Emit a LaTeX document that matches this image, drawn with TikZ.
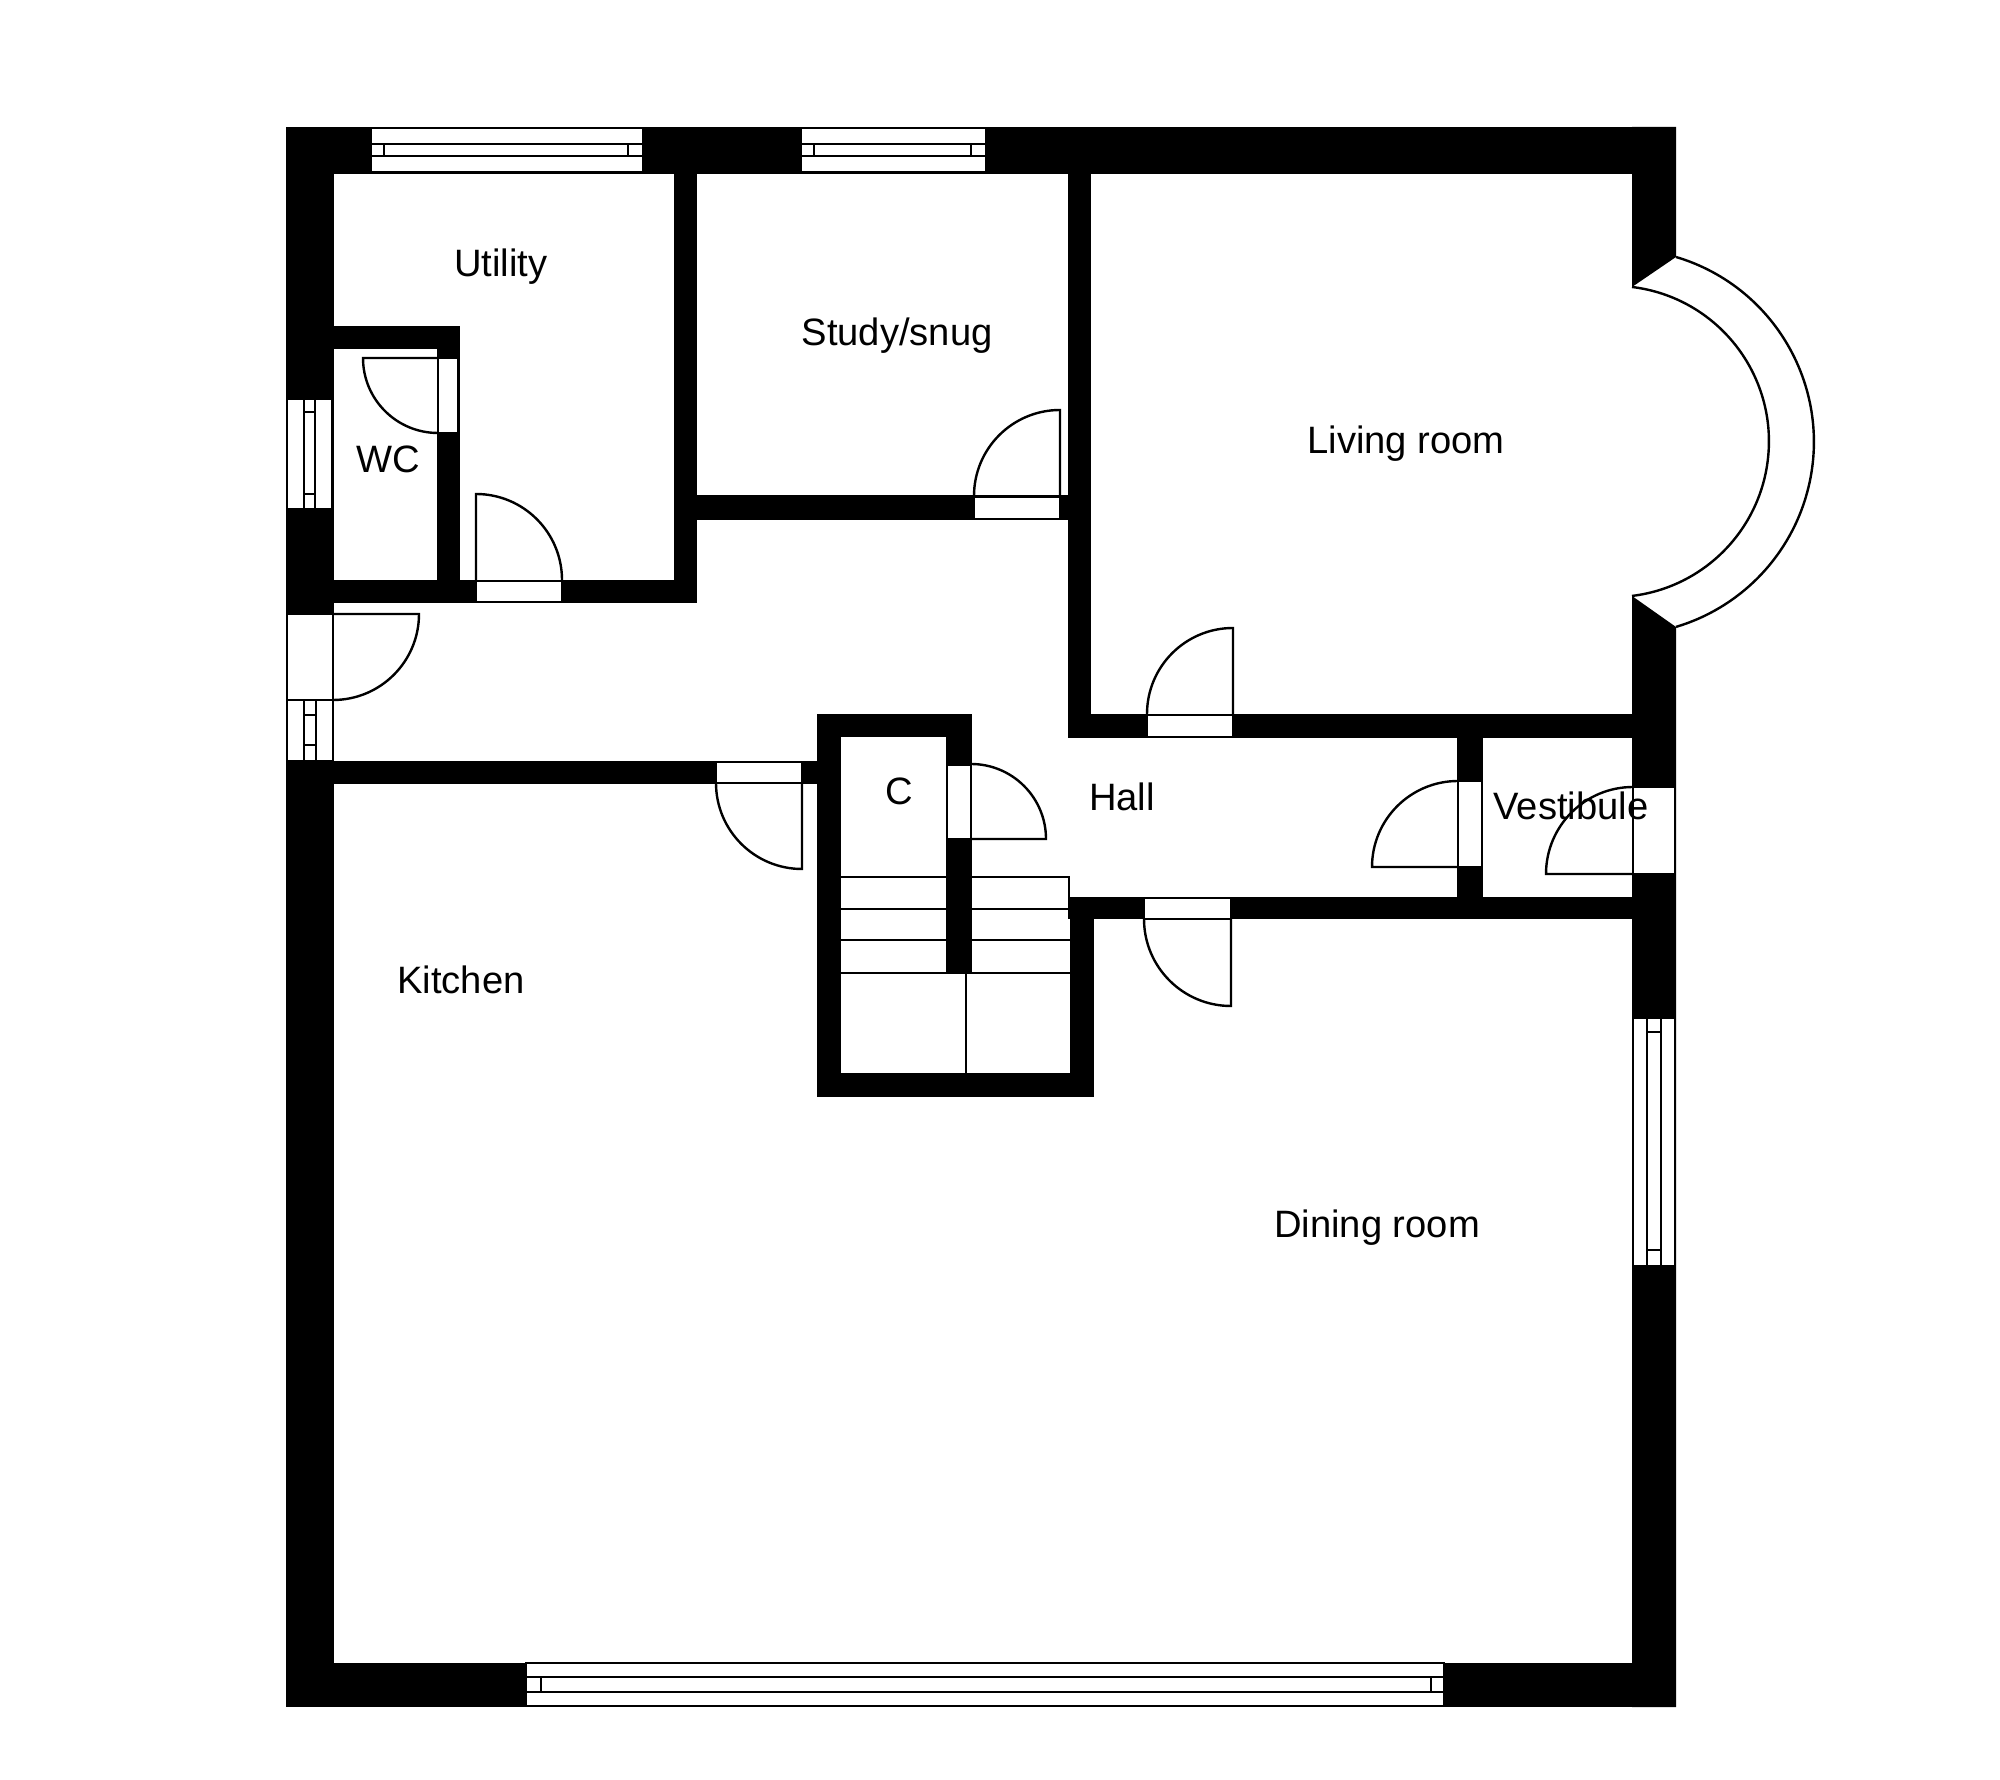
\documentclass[tikz,border=0pt]{standalone}
\usepackage{fontspec}
\setmainfont{Liberation Sans}
\tikzset{
	wall/.style={fill=black,draw=none},
	gap/.style={fill=white,draw=black,line width=0.024cm},
	thinline/.style={draw=black,line width=0.024cm},
	room/.style={anchor=base,inner sep=0pt,font=\fontsize{10.85}{13}\selectfont}
}
\begin{document}
\begin{tikzpicture}[x=0.01cm,y=-0.01cm]
		\useasboundingbox (0,0) rectangle (2000,1780);

		\fill[wall] (286,127) rectangle (1676,174);
		\fill[wall] (286,127) rectangle (334,1707);
		\fill[wall] (286,1663) rectangle (1676,1707);
		\fill[wall] (1632,127) -- (1676,127) -- (1676,257) -- (1632,287) -- cycle;
		\fill[wall] (1632,596) -- (1676,627) -- (1676,1707) -- (1632,1707) -- cycle;

		\fill[wall] (674,174) rectangle (697,603);
		\fill[wall] (1068,174) rectangle (1091,738);
		\fill[wall] (697,495) rectangle (1068,520);
		\fill[wall] (334,326) rectangle (460,349);
		\fill[wall] (437,326) rectangle (460,603);
		\fill[wall] (334,580) rectangle (697,603);
		\fill[wall] (334,761) rectangle (817,784);

		\fill[wall] (817,714) rectangle (841,1097);
		\fill[wall] (817,714) rectangle (972,737);
		\fill[wall] (946,714) rectangle (972,973);
		\fill[wall] (817,1073) rectangle (1094,1097);
		\fill[wall] (1070,897) rectangle (1094,1097);

		\fill[wall] (1068,714) rectangle (1632,738);
		\fill[wall] (1068,897) rectangle (1676,919);
		\fill[wall] (1457,738) rectangle (1483,897);

		\draw[gap] (371,128) rectangle (643,172);
		\draw[thinline] (371,144) -- (643,144) (371,156) -- (643,156);
		\draw[thinline] (384,144) -- (384,156) (628,144) -- (628,156);

		\draw[gap] (801,128) rectangle (986,172);
		\draw[thinline] (801,144) -- (986,144) (801,156) -- (986,156);
		\draw[thinline] (814,144) -- (814,156) (971,144) -- (971,156);

		\draw[gap] (526,1663) rectangle (1444,1706);
		\draw[thinline] (526,1677) -- (1444,1677) (526,1692) -- (1444,1692);
		\draw[thinline] (541,1677) -- (541,1692) (1431,1677) -- (1431,1692);

		\draw[gap] (287,399) rectangle (332,509);
		\draw[thinline] (304,399) -- (304,509) (315,399) -- (315,509);
		\draw[thinline] (304,412) -- (315,412) (304,494) -- (315,494);

		\draw[gap] (287,700) rectangle (333,761);
		\draw[thinline] (304,700) -- (304,761) (316,700) -- (316,761);
		\draw[thinline] (304,715) -- (316,715) (304,745) -- (316,745);

		\draw[gap] (1633,1018) rectangle (1675,1266);
		\draw[thinline] (1647,1018) -- (1647,1266) (1661,1018) -- (1661,1266);
		\draw[thinline] (1647,1032) -- (1661,1032) (1647,1250) -- (1661,1250);

		\draw[thinline] (1676,257) arc[start angle=-73.4,end angle=73.4,radius=193];
		\draw[thinline] (1632,287) arc[start angle=-83.1,end angle=83.1,radius=155.6];

		\draw[gap] (287,614) rectangle (333,700);
		\draw[thinline] (333,614) -- (419,614) arc[start angle=0,end angle=90,radius=86];

		\draw[gap] (438,358) rectangle (458,433);
		\draw[thinline] (438,358) -- (363,358) arc[start angle=180,end angle=90,radius=75];

		\draw[gap] (476,581) rectangle (562,602);
		\draw[thinline] (476,581) -- (476,494) arc[start angle=-90,end angle=0,radius=86];

		\draw[gap] (974,497) rectangle (1060,519);
		\draw[thinline] (1060,497) -- (1060,410) arc[start angle=-90,end angle=-180,radius=86];

		\draw[gap] (716,762) rectangle (802,783);
		\draw[thinline] (802,783) -- (802,869) arc[start angle=90,end angle=180,radius=86];

		\draw[gap] (947,765) rectangle (971,839);
		\draw[thinline] (971,839) -- (1046,839) arc[start angle=0,end angle=-90,radius=75];

		\draw[gap] (1147,715) rectangle (1233,737);
		\draw[thinline] (1233,715) -- (1233,628) arc[start angle=-90,end angle=-180,radius=86];

		\draw[gap] (1144,898) rectangle (1231,919);
		\draw[thinline] (1231,919) -- (1231,1006) arc[start angle=90,end angle=180,radius=87];

		\draw[gap] (1458,781) rectangle (1482,867);
		\draw[thinline] (1458,867) -- (1372,867) arc[start angle=180,end angle=270,radius=86];

		\draw[gap] (1633,787) rectangle (1675,874);
		\draw[thinline] (1633,874) -- (1546,874) arc[start angle=180,end angle=270,radius=87];

		\draw[thinline] (841,877) -- (946,877);
		\draw[thinline] (841,909) -- (946,909);
		\draw[thinline] (841,940) -- (946,940);
		\draw[thinline] (841,973) -- (1070,973);
		\draw[thinline] (972,877) -- (1069,877) -- (1069,897);
		\draw[thinline] (972,909) -- (1070,909);
		\draw[thinline] (972,940) -- (1070,940);
		\draw[thinline] (966,973) -- (966,1073);

		\node[room] (utility) at (501,277) {Utility};
		\node[room] (wc) at (388,473) {WC};
		\node[room] (study) at (897,346) {Study/snug};
		\node[room] (living) at (1406,454) {Living room};
		\node[room] (closet) at (899,805) {C};
		\node[room] (hall) at (1122,811) {Hall};
		\node[room] (vestibule) at (1571,820) {Vestibule};
		\node[room] (kitchen) at (461,994) {Kitchen};
		\node[room] (dining) at (1377,1238) {Dining room};
	\end{tikzpicture}
\end{document}
